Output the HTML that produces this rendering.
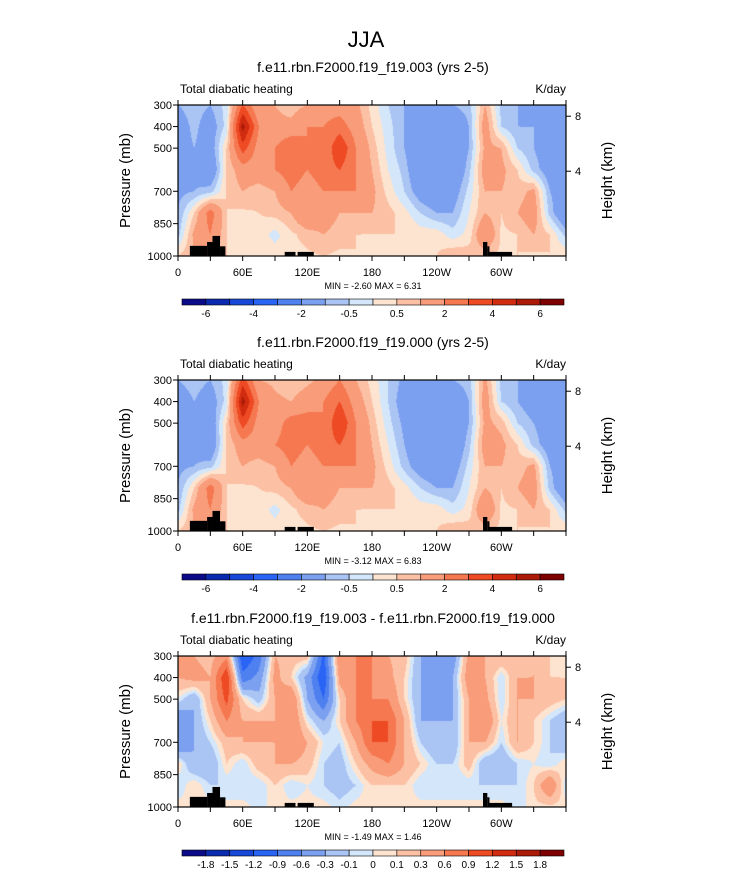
<!DOCTYPE html>
<html><head><meta charset="utf-8"><style>
body{margin:0;background:#fff;width:733px;height:888px;overflow:hidden;font-family:"Liberation Sans",sans-serif;}
#wrap{position:relative;width:733px;height:888px;}
canvas{position:absolute;}
svg{position:absolute;left:0;top:0;}
</style></head><body>
<div id="wrap">
<svg id="svg" width="733" height="888"></svg>
</div>
<script>
const lons=[0,15,30,45,60,75,90,105,120,135,150,165,180,195,210,225,240,255,270,285,300,315,330,345,360];
const pressures=[300,400,500,600,700,800,900,1000];
const p1Values=[
[-1,-0.7,-1,-0.3,3,1,1,0.7,1,1.5,1.5,1.2,0.3,-0.5,-1,-1.5,-1,-1,-0.7,1,-0.7,-1,-1.2,-1,-1],
[-1.5,-0.8,-1.5,-0.3,5.5,2,1.2,1.2,2,2,2.5,1.5,0.5,-0.3,-1,-2,-2,-2,-1,1.5,-0.5,-1,-1,-1.2,-1.5],
[-1.5,-1,-1.5,0.5,3.5,1.5,2,3,2,2,4,2,0.8,-0.2,-1,-2,-2,-2,-1,1.2,1,-0.5,-1,-1.5,-2],
[-1.5,-1.2,-2,0.5,1.5,1.5,2,2.5,2,2.5,3,2,1,0,-0.7,-2,-2,-2,-0.7,1.5,1.2,0.5,-0.7,-1.5,-1.5],
[-1.2,-1,-0.7,0.5,1,0.7,1,2,1.5,2,2,2,1.2,0.3,-0.5,-1.5,-2,-1.5,-0.3,1,1,0.7,1.2,-1,-1.5],
[-1,0.5,2.5,0.5,0.4,0.5,0.7,1,2,1.5,1,1,1,0.7,0.2,-0.5,-1,-1,0,1,0.5,1,1.5,-0.7,-2],
[-0.7,1.2,2,0.5,0.3,0.3,-0.2,0.4,0.7,1,0.7,0.5,0.5,0.5,0.5,0.3,0.3,-0.3,0.2,2,0.4,0.5,1,0.5,-0.7],
[0.5,1,1,0.5,0.4,0.4,0.3,0.3,0.4,0.5,0.4,0.5,0.4,0.4,0.4,0.4,0.5,1,0.8,0.5,0.4,0.5,0.4,0.5,0.4]];
const p2Values=[
[-1,-0.7,-1,-0.3,3.5,1,0.8,0.5,0.8,1.2,2,1,0.3,-0.5,-1.2,-1.5,-1.2,-1,-0.7,1.2,-0.7,-1,-1.2,-1,-1],
[-1.5,-1,-1.5,-0.3,5.5,2,1.2,1,1.5,2,3,1.5,0.5,-0.5,-1.5,-2,-1.9,-1.9,-1,1.5,-0.5,-1,-1.5,-1.5,-1.5],
[-1.5,-1,-1.7,0.5,3.5,1.5,1.5,2.5,2.5,2,4,2,0.8,-0.3,-1.2,-1.9,-1.9,-1.9,-1,1.2,0.8,-0.5,-1,-1.5,-1.9],
[-1.5,-1.2,-1.9,0.5,1.5,1.5,2,2.5,2,2.5,3,2,1,0,-1,-1.9,-1.9,-1.9,-0.7,1.5,1.2,0.5,-0.7,-1.5,-1.5],
[-1.2,-1,-0.7,0.5,1,0.7,1,2,1.5,2,2,2,1.2,0.3,-0.7,-1.5,-1.9,-1.5,-0.3,1,1,0.7,1.2,-1,-1.5],
[-1,0.5,2.5,0.5,0.4,0.5,0.7,1,2,1.5,1,1,1,0.7,0.2,-0.5,-1,-1,0,1,0.5,1,1.5,-0.7,-1.9],
[-0.7,1.2,2,0.5,0.3,0.3,-0.2,0.4,0.7,1,0.7,0.5,0.5,0.5,0.5,0.3,0.3,-0.3,0.2,2,0.4,0.5,1,0.5,-0.7],
[0.5,1,1,0.5,0.4,0.4,0.3,0.3,0.4,0.5,0.4,0.5,0.4,0.4,0.4,0.4,0.5,1,0.8,0.5,0.4,0.5,0.4,0.5,0.4]];
const p3Values=[
[0.3,0.3,0.2,0.5,-1.2,-0.8,0.3,0.2,0.2,-1,0.6,0.6,0.6,0.3,0.2,-0.3,-0.3,-0.5,0.4,0.3,0.3,0.2,0.3,0.1,0.05],
[0.3,0.4,0.3,1.2,-0.8,-0.5,0.4,0.1,-0.4,-1.2,0.4,0.6,0.6,0.4,0.1,-0.3,-0.4,-0.3,0.5,0.3,-0.1,0.3,0.3,0.1,0.1],
[0,-0.3,0.3,1,0.1,-0.2,0.3,0.6,-0.3,-0.9,0.1,0.6,0.6,0.6,0.1,-0.3,-0.5,-0.3,0.3,0.4,-0.1,0.3,0.3,0.2,0.1],
[-0.6,-0.3,0.1,0.6,0.3,0.3,0.3,0.6,0,-0.3,0.1,0.6,0.9,0.9,0.3,-0.3,-0.3,-0.3,0.3,0.6,0,0.3,0.1,-0.1,-0.3],
[-0.6,-0.3,-0.1,0.2,0.3,0.3,0.3,0.6,0.3,0,-0.1,0.3,0.9,0.9,0.3,-0.1,-0.3,-0.3,0.3,0.3,-0.1,0.3,0.1,-0.1,-0.3],
[0.1,-0.3,-0.3,0.1,-0.1,0.2,0.3,0.3,0.2,-0.1,-0.2,0.1,0.4,0.6,0.3,0.1,-0.1,-0.1,0.2,-0.3,-0.3,-0.1,0,-0.1,0.1],
[-0.1,0.1,-0.1,-0.1,-0.1,-0.1,0.1,-0.1,0,-0.1,-0.2,-0.1,0.1,0.1,0.1,-0.1,-0.1,-0.1,-0.1,-0.1,-0.1,-0.1,0.1,0.6,-0.1],
[0.05,0.05,0.05,0.05,0.05,-0.05,0.05,0.05,0.05,0.05,-0.05,0.05,0.05,0.05,0.05,0.05,0.05,0.05,0.05,0.05,0.05,-0.05,0.05,0.05,0.05]];
const levels1=[-6,-5,-4,-3,-2,-1,-0.5,0,0.5,1,2,3,4,5,6];
const levels3=[-1.8,-1.5,-1.2,-0.9,-0.6,-0.3,-0.1,0,0.1,0.3,0.6,0.9,1.2,1.5,1.8];
const colors=['#0b0b8a','#0a2bb0','#1848d8','#2a64f5','#4e80f0','#7ca0f0','#aac4f4','#d4e6fa','#fde4d0','#fcc0a4','#f89c7a','#f57850','#ee4a24','#d22c10','#ac1a08','#7e0000'];
const xTickLabels=['0','60E','120E','180','120W','60W'];
const xTickLons=[0,60,120,180,240,300];
const yTickLabels=['300','400','500','700','850','1000'];
const yTickValues=[300,400,500,700,850,1000];
const heightLabels=['8','4'];
const heightPress=[352,607];
const topoLon0=[11,27,32,39,99,111,283,287,289];
const topoLon1=[27,32,39,44,109,126,287,289,310];
const topoPress=[953,935,907,955,981,981,935,955,981];
const panels=[
 {off:0,vals:p1Values,levels:levels1,every:2,title:'f.e11.rbn.F2000.f19_f19.003 (yrs 2-5)',mm:'MIN =  -2.60   MAX =    6.31'},
 {off:275,vals:p2Values,levels:levels1,every:2,title:'f.e11.rbn.F2000.f19_f19.000 (yrs 2-5)',mm:'MIN =  -3.12   MAX =    6.83'},
 {off:551,vals:p3Values,levels:levels3,every:1,title:'f.e11.rbn.F2000.f19_f19.003 - f.e11.rbn.F2000.f19_f19.000',mm:'MIN =  -1.49   MAX =    1.46'}];
const X0=178,W=388,Y0=105,H=151;
const svg=document.getElementById('svg'),wrap=document.getElementById('wrap');
const NS='http://www.w3.org/2000/svg';
function xs(l){return X0+l/360*W;}
function ys(p,off){return Y0+off+(p-300)/700*H;}
function mk(tag,attrs,parent){const e=document.createElementNS(NS,tag);for(const k in attrs)e.setAttribute(k,attrs[k]);(parent||svg).appendChild(e);return e;}
function txt(x,y,s,size,anchor,extra,parent){const t=mk('text',Object.assign({x:x,y:y,'font-size':size,'text-anchor':anchor||'middle','font-family':'Liberation Sans, sans-serif',fill:'#000'},extra||{}),parent);t.textContent=s;return t;}
function hex(c){return [parseInt(c.substr(1,2),16),parseInt(c.substr(3,2),16),parseInt(c.substr(5,2),16)];}
const rgb=colors.map(hex);
const t0=txt(366,47,'JJA',22);


panels.forEach((P,pi)=>{
 const cv=document.createElement('canvas');cv.width=W;cv.height=H;
 cv.style.left=X0+'px';cv.style.top=(Y0+P.off)+'px';
 
 
 wrap.insertBefore(cv,svg);
 const ctx=cv.getContext('2d');const img=ctx.createImageData(W,H);
 for(let j=0;j<H;j++){const p=300+(j+0.5)/H*700;let fy=(p-300)/100;let r=Math.min(Math.floor(fy),6);let ty=fy-r;
  for(let i=0;i<W;i++){const l=(i+0.5)/W*360;let fx=l/15;let c=Math.min(Math.floor(fx),23);let tx=fx-c;
   let v=P.vals[r][c]*(1-tx)*(1-ty)+P.vals[r][c+1]*tx*(1-ty)+P.vals[r+1][c]*(1-tx)*ty+P.vals[r+1][c+1]*tx*ty;
   v=Math.round(v*1e5)/1e5+1e-4;
   let k=0;while(k<P.levels.length&&v>=P.levels[k])k++;
   const o=(j*W+i)*4;img.data[o]=rgb[k][0];img.data[o+1]=rgb[k][1];img.data[o+2]=rgb[k][2];img.data[o+3]=255;}}
 ctx.putImageData(img,0,0);
 const g=mk('g',{});
 
 
 topoLon0.forEach((a,i)=>{const r=mk('rect',{x:xs(a),y:ys(topoPress[i],P.off),width:xs(topoLon1[i])-xs(a),height:ys(1000,P.off)-ys(topoPress[i],P.off),fill:'#000'},g);
  
  });
 const fr=mk('rect',{x:X0,y:Y0+P.off,width:W,height:H,fill:'none',stroke:'#000','stroke-width':1.2},g);
 
 
 for(let l=0;l<=360;l+=30){const x=xs(l);mk('line',{x1:x,x2:x,y1:Y0+P.off,y2:Y0+P.off-5,stroke:'#000'},g);mk('line',{x1:x,x2:x,y1:Y0+P.off+H,y2:Y0+P.off+H+5,stroke:'#000'},g);}
 xTickLons.forEach((l,i)=>{const t=txt(xs(l),Y0+P.off+H+20,xTickLabels[i],11,'middle',{},g);
  
  });
 yTickValues.forEach((p,i)=>{const y=ys(p,P.off);mk('line',{x1:X0,x2:X0-5,y1:y,y2:y,stroke:'#000'},g);
  const t=txt(X0-6,y+4,yTickLabels[i],11,'end',{},g);
  
  });
 heightPress.forEach((p,i)=>{const y=ys(p,P.off);mk('line',{x1:X0+W,x2:X0+W+5,y1:y,y2:y,stroke:'#000'},g);
  const t=txt(X0+W+12,y+4,heightLabels[i],11,'middle',{},g);
  
  });
 const ya=txt(0,0,'Pressure (mb)',15,'middle',{transform:'translate(130,'+(Y0+P.off+H/2)+') rotate(-90)'});
 
 
 const ha=txt(0,0,'Height (km)',15,'middle',{transform:'translate(612,'+(Y0+P.off+H/2)+') rotate(-90)'});
 
 
 const ti=txt(373,Y0+P.off-33,P.title,14);
 
 
 const ls=txt(X0+2,Y0+P.off-12,'Total diabatic heating',12,'start');
 
 
 const un=txt(X0+W,Y0+P.off-12,'K/day',12,'end');
 
 
 const mm=txt(373,Y0+P.off+H+33,P.mm,9,'middle',{'xml:space':'preserve'});
 
 
 const cb=mk('g',{});
 
 
 const cx0=182,cw=382/16,cy=299+P.off;
 colors.forEach((c,i)=>{const r=mk('rect',{x:cx0+i*cw,y:cy,width:cw,height:6,fill:c,stroke:'#000','stroke-width':0.6},cb);
  
  });
 P.levels.forEach((lv,k)=>{if(k%P.every!==0)return;const t=txt(cx0+(k+1)*cw,cy+18,String(lv),10,'middle',{},cb);
  
  });
});
</script>
</body></html>
